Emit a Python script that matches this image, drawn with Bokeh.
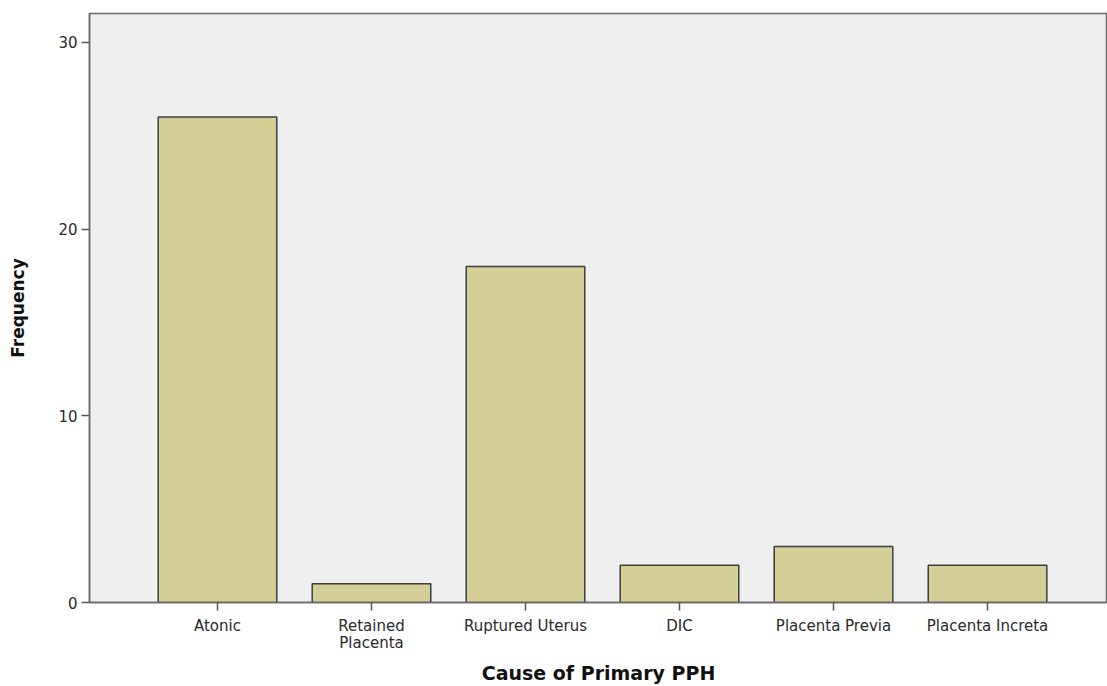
from bokeh.plotting import figure
from bokeh.models import FixedTicker, Range1d
from bokeh.embed import file_html
from bokeh.resources import INLINE

categories = ["Atonic", "Retained\nPlacenta", "Ruptured Uterus", "DIC",
              "Placenta Previa", "Placenta Increta"]
frequency = [26, 1, 18, 2, 3, 2]
y_ticks = [0, 10, 20, 30]

xs = list(range(len(categories)))

p = figure(width=1107, height=686, output_backend="svg", toolbar_location=None,
           x_range=Range1d(-0.831, 5.779), y_range=Range1d(0, 31.55),
           min_border_left=89, min_border_right=0, min_border_top=13,
           min_border_bottom=84)

p.background_fill_color = "#efefef"
p.border_fill_color = "white"
p.outline_line_color = "#6a6a6a"
p.outline_line_width = 1.5
p.xgrid.visible = False
p.ygrid.visible = False

p.vbar(x=xs, top=frequency, bottom=0, width=0.77,
       fill_color="#d3cf97", line_color="#3f3f3f", line_width=1.5)

font = "DejaVu Sans"
for ax in (p.xaxis[0], p.yaxis[0]):
    ax.axis_line_color = "#6a6a6a"
    ax.axis_line_width = 1.5
    ax.major_tick_line_color = "#555555"
    ax.major_tick_line_width = 1.5
    ax.major_tick_in = 0
    ax.major_tick_out = 8
    ax.minor_tick_line_color = None
    ax.major_label_text_font = font
    ax.major_label_text_font_size = "15px"
    ax.major_label_text_color = "#2a2a2a"
    ax.axis_label_text_font = font
    ax.axis_label_text_font_style = "bold"
    ax.axis_label_text_color = "#111111"

p.xaxis.ticker = FixedTicker(ticks=xs)
p.xaxis.major_label_overrides = {i: c for i, c in enumerate(categories)}
p.xaxis.major_label_standoff = 6
p.xaxis.major_label_text_line_height = 0.95
p.xaxis.axis_label = "Cause of Primary PPH"
p.xaxis.axis_label_text_font_size = "19px"
p.xaxis.axis_label_standoff = 7

p.yaxis.ticker = FixedTicker(ticks=y_ticks)
p.yaxis.major_label_standoff = 4
p.yaxis.axis_label = "Frequency"
p.yaxis.axis_label_text_font_size = "17px"
p.yaxis.axis_label_standoff = 27

open("out.html", "w").write(file_html(p, INLINE))
